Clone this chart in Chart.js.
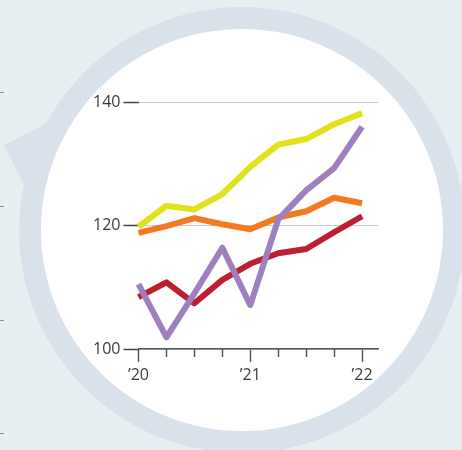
<!DOCTYPE html>
<html>
<head>
<meta charset="utf-8">
<script src="https://cdn.jsdelivr.net/npm/chart.js@4"></script>
<style>
  html, body { margin: 0; padding: 0; background: #e8eff2; }
  #wrap { width: 462px; height: 450px; }
</style>
</head>
<body>
<div id="wrap"><canvas id="chart"></canvas></div>
<script>
"use strict";

// quarterly points, Q1 2020 .. Q1 2022
const quarters = ['Q1 20', 'Q2 20', 'Q3 20', 'Q4 20', 'Q1 21', 'Q2 21', 'Q3 21', 'Q4 21', 'Q1 22'];
const yearLabels = ['\u201920', '\u201921', '\u201922'];
const yTicks = [100, 120, 140];

const purple = [110.5, 101.9, 109.0, 116.4, 107.1, 121.0, 125.7, 129.3, 136.0];
const yellow = [119.8, 123.2, 122.6, 125.1, 129.5, 133.1, 134.0, 136.4, 138.2];
const orange = [118.8, 119.9, 121.2, 120.2, 119.4, 121.3, 122.3, 124.5, 123.6];
const red    = [108.4, 110.8, 107.4, 111.2, 113.8, 115.5, 116.2, 118.9, 121.5];

const toPoints = (arr) => arr.map((v, i) => ({ x: i, y: v }));

// round frame with the thick ring and the little pointer on the left
const backdrop = {
  id: 'backdrop',
  beforeDraw(chart) {
    const ctx = chart.ctx;
    ctx.save();
    ctx.fillStyle = '#e8eff2';
    ctx.fillRect(0, 0, chart.width, chart.height);

    // small dashes on the left edge
    ctx.strokeStyle = '#8a8f93';
    ctx.lineWidth = 1;
    [92, 206, 320, 433].forEach((y) => {
      ctx.beginPath();
      ctx.moveTo(0, y + 0.5);
      ctx.lineTo(4, y + 0.5);
      ctx.stroke();
    });

    ctx.fillStyle = '#d9e2ea';
    ctx.beginPath();
    ctx.arc(242, 230, 223, 0, Math.PI * 2);
    ctx.fill();

    ctx.beginPath();
    ctx.moveTo(4, 145);
    ctx.lineTo(47, 123);
    ctx.lineTo(80, 150);
    ctx.lineTo(23, 183);
    ctx.closePath();
    ctx.fill();

    ctx.fillStyle = '#ffffff';
    ctx.beginPath();
    ctx.arc(242, 230, 201, 0, Math.PI * 2);
    ctx.fill();
    ctx.restore();
  },
  afterDraw(chart) {
    // minor quarter ticks, shorter than the year ticks
    const ctx = chart.ctx;
    const x = chart.scales.x;
    ctx.save();
    ctx.strokeStyle = '#555555';
    ctx.lineWidth = 1.5;
    quarters.forEach((q, i) => {
      if (i % 4 === 0) return;
      const px = Math.round(x.getPixelForValue(i)) + 0.5;
      ctx.beginPath();
      ctx.moveTo(px, x.top);
      ctx.lineTo(px, x.top + 8);
      ctx.stroke();
    });
    ctx.restore();
  }
};

const line = (data, color) => ({
  data: toPoints(data),
  borderColor: color,
  borderWidth: 6,
  pointRadius: 0,
  tension: 0,
  borderJoinStyle: 'round',
  borderCapStyle: 'butt'
});

const chart = new Chart(document.getElementById('chart'), {
  type: 'line',
  data: {
    datasets: [
      line(purple, '#9d80bd'),
      line(yellow, '#e2e21c'),
      line(orange, '#f47a22'),
      line(red, '#bd1f31')
    ]
  },
  options: {
    responsive: true,
    maintainAspectRatio: false,
    animation: false,
    clip: false,
    layout: { padding: { left: 0, right: 84, top: 102, bottom: 0 } },
    plugins: { legend: { display: false }, tooltip: { enabled: false } },
    scales: {
      x: {
        type: 'linear',
        min: 0,
        max: 8.57,
        afterBuildTicks: (s) => { s.ticks = [0, 4, 8].map((v) => ({ value: v })); },
        afterFit: (s) => { s.height = 101; },
        border: { display: true, color: '#555555', width: 1.5 },
        grid: { drawOnChartArea: false, drawTicks: true, tickLength: 13, tickColor: '#555555', tickWidth: 1.5 },
        ticks: {
          autoSkip: false,
          maxRotation: 0,
          padding: 4,
          color: '#3a3a3a',
          font: { family: 'Open Sans', size: 16 },
          callback: (v) => yearLabels[v / 4]
        }
      },
      y: {
        type: 'linear',
        min: 100,
        max: 140,
        afterBuildTicks: (s) => { s.ticks = yTicks.map((v) => ({ value: v })); },
        afterFit: (s) => { s.width = 138.5; },
        border: { display: false },
        grid: { color: '#c9c9c9', lineWidth: 1, drawTicks: true, tickLength: 15, tickColor: '#444444', tickWidth: 1.5 },
        ticks: {
          padding: 3,
          color: '#3a3a3a',
          font: { family: 'Open Sans', size: 16 }
        }
      }
    }
  },
  plugins: [backdrop]
});
</script>
</body>
</html>
